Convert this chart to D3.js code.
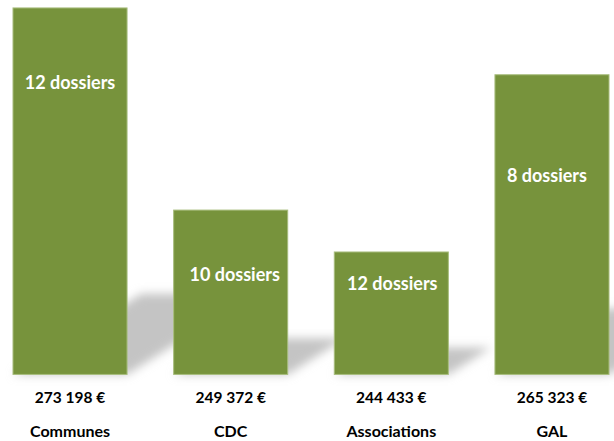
<!DOCTYPE html>
<html>
<head>
<meta charset="utf-8">
<script src="https://cdn.jsdelivr.net/npm/d3@7"></script>
<style>
  html, body { margin: 0; padding: 0; background: #fff; }
  svg { display: block; }
</style>
</head>
<body>
<svg id="chart" width="614" height="441"></svg>
<script>
// ---- data ----
const categories = ["Communes", "CDC", "Associations", "GAL"];
const amounts = [273198, 249372, 244433, 265323];
const amountLabels = ["273 198 €", "249 372 €", "244 433 €", "265 323 €"];
const dossierLabels = ["12 dossiers", "10 dossiers", "12 dossiers", "8 dossiers"];

// ---- layout ----
const baseY = 375;
const labelOffsetsY = [75, 65, 32, 101]; // px below each bar top
const labelOffsetsX = [0, 4, 1, -5];

const svg = d3.select("#chart");

const x = d3.scaleBand()
  .domain(categories)
  .range([-10.3, 632.3])
  .paddingInner(0.29)
  .paddingOuter(0.145);

const y = d3.scaleLinear()
  .domain([230000, 280000])
  .range([baseY - 0.57, baseY - 0.57 - 424.2]);

const data = categories.map((c, i) => ({
  cat: c, value: amounts[i], amount: amountLabels[i], dossiers: dossierLabels[i],
  offY: labelOffsetsY[i], offX: labelOffsetsX[i]
}));

// shadow filter
const defs = svg.append("defs");
const f = defs.append("filter").attr("id", "blur").attr("x", "-50%").attr("y", "-50%").attr("width", "200%").attr("height", "200%");
f.append("feGaussianBlur").attr("stdDeviation", 5);

const gShadow = svg.append("g").attr("filter", "url(#blur)");
gShadow.selectAll("path")
  .data(data)
  .join("path")
  .attr("fill", "#c4c4c4")
  .attr("d", d => {
    const x0 = x(d.cat), x1 = x0 + x.bandwidth();
    const h = y(230000) - y(d.value);
    const b = y(230000);
    const dx = 0.35 * h, dy = 0.22 * h;
    return `M${x0},${b}L${x1},${b}L${x1 + dx},${b - dy}L${x0 + dx},${b - dy}Z`;
  });

// bars
svg.append("g").selectAll("rect")
  .data(data)
  .join("rect")
  .attr("x", d => x(d.cat))
  .attr("y", d => y(d.value))
  .attr("width", x.bandwidth())
  .attr("height", d => y(230000) - y(d.value))
  .attr("fill", "#77933c")
  .attr("stroke", "#a8bd7e")
  .attr("stroke-width", 1);

const font = "Lato, 'Open Sans', sans-serif";

// inside labels
svg.append("g").selectAll("text")
  .data(data)
  .join("text")
  .attr("x", d => x(d.cat) + x.bandwidth() / 2 + d.offX)
  .attr("y", d => y(d.value) + d.offY)
  .attr("dy", "0.35em")
  .attr("text-anchor", "middle")
  .attr("fill", "#ffffff")
  .style("font-family", font)
  .style("font-weight", "bold")
  .style("font-size", "18px")
  .text(d => d.dossiers);

// amounts
svg.append("g").selectAll("text")
  .data(data)
  .join("text")
  .attr("x", d => x(d.cat) + x.bandwidth() / 2)
  .attr("y", 398)
  .attr("dy", "0.35em")
  .attr("text-anchor", "middle")
  .attr("fill", "#000")
  .style("font-family", font)
  .style("font-weight", "bold")
  .style("font-size", "15.5px")
  .text(d => d.amount);

// categories
svg.append("g").selectAll("text")
  .data(data)
  .join("text")
  .attr("x", d => x(d.cat) + x.bandwidth() / 2)
  .attr("y", 431)
  .attr("dy", "0.35em")
  .attr("text-anchor", "middle")
  .attr("fill", "#000")
  .style("font-family", font)
  .style("font-weight", "bold")
  .style("font-size", "16px")
  .text(d => d.cat);
</script>
</body>
</html>
